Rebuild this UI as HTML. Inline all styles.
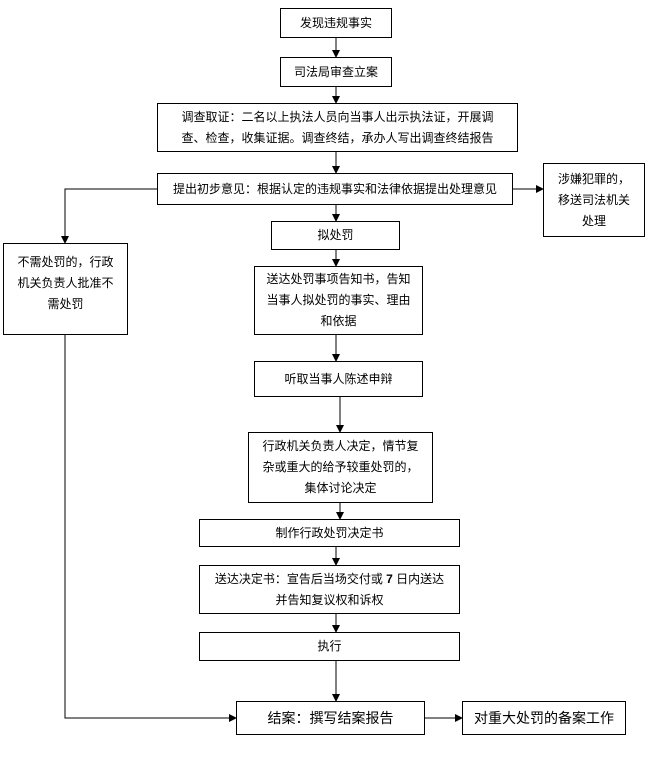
<!DOCTYPE html><html><head><meta charset="utf-8"><style>
body{margin:0;width:649px;height:759px;background:#fff;position:relative;font-family:"Liberation Sans","Noto Sans CJK SC",sans-serif;font-size:12px;color:#000;overflow:hidden}
.b{position:absolute;border:1px solid #000;box-sizing:border-box;display:flex;align-items:center;justify-content:center;text-align:center;line-height:21px;background:#fff}
svg{position:absolute;left:0;top:0}
</style></head><body>
<svg width="649" height="759"><defs><marker id="a" markerWidth="8" markerHeight="8" refX="7" refY="4" orient="auto" markerUnits="userSpaceOnUse"><path d="M0,0L8,4L0,8z"/></marker></defs>
<g stroke="#000" stroke-width="1" fill="none">
<line x1="336" y1="38" x2="336" y2="57" marker-end="url(#a)"/>
<line x1="336" y1="87" x2="336" y2="103" marker-end="url(#a)"/>
<line x1="336" y1="152" x2="336" y2="173" marker-end="url(#a)"/>
<line x1="336" y1="205" x2="336" y2="221" marker-end="url(#a)"/>
<line x1="336" y1="250" x2="336" y2="266" marker-end="url(#a)"/>
<line x1="336" y1="335" x2="336" y2="361" marker-end="url(#a)"/>
<line x1="340" y1="397" x2="340" y2="432" marker-end="url(#a)"/>
<line x1="340" y1="503" x2="340" y2="519" marker-end="url(#a)"/>
<line x1="336" y1="547" x2="336" y2="565" marker-end="url(#a)"/>
<line x1="336" y1="614" x2="336" y2="632" marker-end="url(#a)"/>
<line x1="336" y1="661" x2="336" y2="701" marker-end="url(#a)"/>
<line x1="513" y1="189" x2="543" y2="189" marker-end="url(#a)"/>
<polyline points="157,189 65,189 65,243" marker-end="url(#a)"/>
<polyline points="65,335 65,718 236,718" marker-end="url(#a)"/>
<line x1="425" y1="718" x2="462" y2="718" marker-end="url(#a)"/>
</g></svg>
<div class="b" style="left:280px;top:8px;width:112px;height:30px">发现违规事实</div>
<div class="b" style="left:280px;top:57px;width:112px;height:30px">司法局审查立案</div>
<div class="b" style="left:157px;top:103px;width:361px;height:49px"><span>调查取证：二名以上执法人员向当事人出示执法证，开展调<br>查、检查，收集证据。调查终结，承办人写出调查终结报告</span></div>
<div class="b" style="left:157px;top:173px;width:356px;height:32px">提出初步意见：根据认定的违规事实和法律依据提出处理意见</div>
<div class="b" style="left:543px;top:163px;width:102px;height:74px"><span>涉嫌犯罪的，<br>移送司法机关<br>处理</span></div>
<div class="b" style="left:271px;top:221px;width:129px;height:29px">拟处罚</div>
<div class="b" style="left:3px;top:243px;width:125px;height:92px;align-items:flex-start;padding-top:8px"><span>不需处罚的，行政<br>机关负责人批准不<br>需处罚</span></div>
<div class="b" style="left:254px;top:266px;width:169px;height:69px"><span>送达处罚事项告知书，告知<br>当事人拟处罚的事实、理由<br>和依据</span></div>
<div class="b" style="left:254px;top:361px;width:169px;height:36px">听取当事人陈述申辩</div>
<div class="b" style="left:248px;top:432px;width:185px;height:71px"><span>行政机关负责人决定，情节复<br>杂或重大的给予较重处罚的，<br>集体讨论决定</span></div>
<div class="b" style="left:199px;top:519px;width:261px;height:28px">制作行政处罚决定书</div>
<div class="b" style="left:199px;top:565px;width:261px;height:49px"><span>送达决定书：宣告后当场交付或 <b>7</b> 日内送达<br>并告知复议权和诉权</span></div>
<div class="b" style="left:199px;top:632px;width:261px;height:29px">执行</div>
<div class="b" style="left:236px;top:701px;width:189px;height:34px;font-size:14px">结案：撰写结案报告</div>
<div class="b" style="left:462px;top:701px;width:164px;height:34px;font-size:14px">对重大处罚的备案工作</div>
</body></html>
